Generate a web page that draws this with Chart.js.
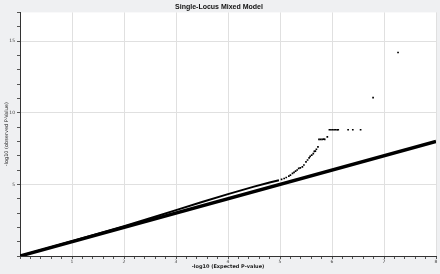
<!DOCTYPE html>
<html>
<head>
<meta charset="utf-8">
<script src="https://cdn.jsdelivr.net/npm/chart.js@4"></script>
<style>
  html, body { margin: 0; padding: 0; background: #eff0f2; }
  #wrap { width: 440px; height: 274px; }
</style>
</head>
<body>
<div id="wrap"><canvas id="qqChart"></canvas></div>
<script>
// expected line (y = x)
var expectedLine = [[0, 0], [8, 8]];

// observed p-values, dense band (points overlap into a line)
var obsBand = [
    [0, 0], [1, 1.03], [2, 2.08], [2.5, 2.64], [3, 3.2], [3.5, 3.77],
    [4, 4.32], [4.5, 4.84], [4.8, 5.13], [4.98, 5.29]
];

// observed p-values, upper tail as separate points
var obsTail = [
    [5.03, 5.35], [5.08, 5.41], [5.12, 5.48], [5.17, 5.57], [5.2, 5.65], [5.24, 5.76],
    [5.27, 5.84], [5.3, 5.92], [5.33, 6.0], [5.36, 6.11], [5.39, 6.15], [5.43, 6.22],
    [5.46, 6.35], [5.5, 6.57], [5.53, 6.7], [5.56, 6.85], [5.58, 6.95], [5.61, 7.04],
    [5.64, 7.15], [5.66, 7.3], [5.68, 7.32], [5.7, 7.45], [5.73, 7.62],
    [5.75, 8.14], [5.78, 8.14], [5.81, 8.14], [5.84, 8.16], [5.86, 8.14], [5.91, 8.32],
    [5.95, 8.81], [5.98, 8.81], [6.01, 8.81], [6.04, 8.81], [6.07, 8.81], [6.1, 8.81],
    [6.12, 8.81], [6.31, 8.81], [6.4, 8.81], [6.55, 8.81],
    [6.79, 11.05], [7.27, 14.2]
];

var xMajor = [1, 2, 3, 4, 5, 6, 7, 8];
var yMajor = [5, 10, 15];

function toXY(arr) { return arr.map(function (p) { return { x: p[0], y: p[1] }; }); }
function isIn(list, v) { return list.some(function (m) { return Math.abs(m - v) < 1e-6; }); }

var bgPlugin = {
    id: 'bg',
    beforeDraw: function (chart) {
        var c = chart.ctx, a = chart.chartArea;
        c.save();
        c.fillStyle = '#eff0f2';
        c.fillRect(0, 0, chart.width, chart.height);
        c.fillStyle = '#ffffff';
        c.fillRect(a.left, a.top, a.right - a.left, a.bottom - a.top);
        c.restore();
    }
};

new Chart(document.getElementById('qqChart').getContext('2d'), {
    type: 'scatter',
    data: {
        datasets: [
            { label: 'Expected', data: toXY(expectedLine), showLine: true, borderColor: '#000', borderWidth: 3.5, pointRadius: 0 },
            { label: 'Observed', data: toXY(obsBand), showLine: true, borderColor: '#000', borderWidth: 2, pointRadius: 0 },
            { label: 'Observed tail', data: toXY(obsTail), pointStyle: 'rect', pointRadius: 1.2, backgroundColor: '#000', borderColor: '#000', borderWidth: 0 }
        ]
    },
    options: {
        responsive: true, maintainAspectRatio: false, animation: false,
        layout: { padding: { right: 2, left: 0, top: 0, bottom: 0 } },
        plugins: {
            legend: { display: false },
            tooltip: { enabled: false },
            title: {
                display: true, text: 'Single-Locus Mixed Model', color: '#111',
                font: { family: "'Liberation Sans', sans-serif", size: 7, weight: 'bold' },
                padding: { top: 3, bottom: 1 }
            }
        },
        scales: {
            x: {
                type: 'linear', min: 0, max: 8,
                border: { display: true, color: '#333', width: 1 },
                grid: {
                    color: function (ctx) { return ctx.tick && isIn(xMajor, ctx.tick.value) ? '#e0e0e0' : 'rgba(0,0,0,0)'; },
                    tickColor: '#555', tickLength: 3, lineWidth: 1
                },
                ticks: {
                    stepSize: 0.2, autoSkip: false, maxRotation: 0, padding: 0, color: '#444',
                    font: { family: "'DejaVu Sans', sans-serif", size: 4.5 },
                    callback: function (v) { return isIn(xMajor, v) ? String(Math.round(v)) : ''; }
                },
                title: {
                    display: true, text: '-log10 (Expected P-value)', color: '#222',
                    font: { family: "'DejaVu Sans', sans-serif", size: 5, weight: 'bold' },
                    padding: { top: 0, bottom: 4 }
                },
                afterFit: function (s) { s.height = 18; s.paddingLeft = 0; s.paddingRight = 0; }
            },
            y: {
                type: 'linear', min: 0, max: 17,
                border: { display: true, color: '#333', width: 1 },
                grid: {
                    color: function (ctx) { return ctx.tick && isIn(yMajor, ctx.tick.value) ? '#e0e0e0' : 'rgba(0,0,0,0)'; },
                    tickColor: '#555', tickLength: 3, lineWidth: 1
                },
                ticks: {
                    stepSize: 1, autoSkip: false, padding: 2, color: '#444',
                    font: { family: "'DejaVu Sans', sans-serif", size: 4.5 },
                    callback: function (v) { return isIn(yMajor, v) ? String(v) : ''; }
                },
                title: {
                    display: true, text: '-log10 (observed P-Value)', color: '#222',
                    font: { family: "'DejaVu Sans', sans-serif", size: 5 },
                    padding: { top: 4, bottom: 0 }
                },
                afterFit: function (s) { s.width = 20; s.paddingTop = 0; s.paddingBottom = 0; }
            }
        }
    },
    plugins: [bgPlugin]
});
</script>
</body>
</html>
